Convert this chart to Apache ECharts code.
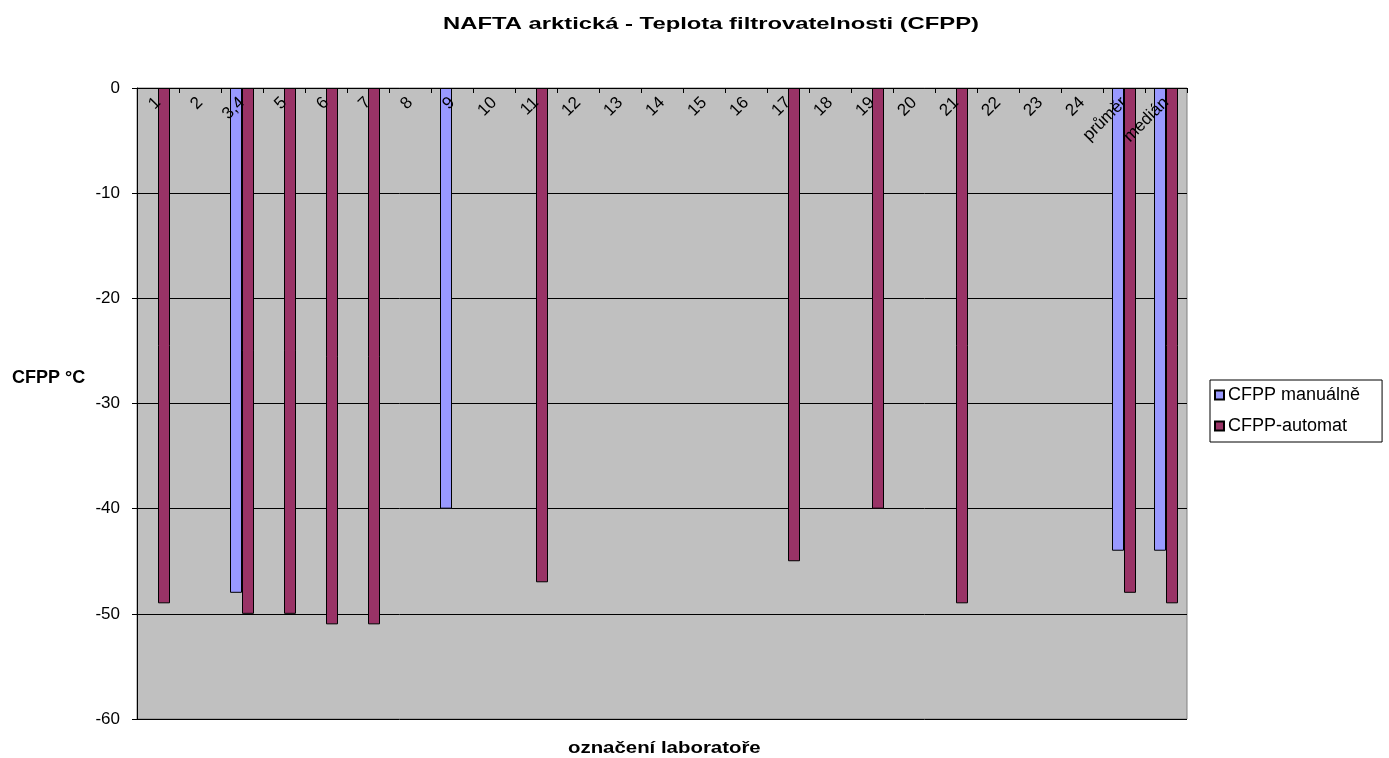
<!DOCTYPE html>
<html>
<head>
<meta charset="utf-8">
<script src="https://cdn.jsdelivr.net/npm/echarts@6/dist/echarts.min.js"></script>
<style>
html,body{margin:0;padding:0;background:#fff;}
#c{width:1389px;height:758px;}
</style>
</head>
<body>
<div id="c"></div>
<script>
const categories = ["1","2","3,4","5","6","7","8","9","10","11","12","13","14","15","16","17","18","19","20","21","22","23","24","průměr","medián"];
const manual =    [null,null,-48,null,null,null,null,-40,null,null,null,null,null,null,null,null,null,null,null,null,null,null,null,-44,-44];
const automat =   [-49,null,-50,-50,-51,-51,null,null,null,-47,null,null,null,null,null,-45,null,-40,null,-49,null,null,null,-48,-49];
const yTicks = { min: -60, max: 0, interval: 10 };

const chart = echarts.init(document.getElementById('c'));
const font = 'Liberation Sans, Arial, sans-serif';
chart.setOption({
  backgroundColor: '#ffffff',
  animation: false,
  textStyle: { fontFamily: font },
  grid: { left: 137, right: 202, top: 88, bottom: 39, show: true, backgroundColor: '#c0c0c0', borderColor: '#808080', borderWidth: 1, outerBoundsMode: 'none', containLabel: false },
  legend: {
    orient: 'vertical', left: 1210, top: 380,
    itemWidth: 9, itemHeight: 9, itemGap: 13,
    padding: [6, 22, 7, 4],
    borderColor: '#000', borderWidth: 1, backgroundColor: '#fff',
    icon: 'rect',
    textStyle: { fontFamily: font, fontSize: 18, color: '#000', padding: [0,0,0,-1] },
    data: ['CFPP manuálně', 'CFPP-automat']
  },
  xAxis: {
    type: 'category', data: categories, position: 'top', z: 10,
    axisLine: { onZero: false, lineStyle: { color: '#000', width: 1 } },
    axisTick: { show: true, inside: true, length: 5, lineStyle: { color: '#000' } },
    axisLabel: { inside: true, rotate: -45, interval: 0, fontSize: 17, color: '#000', fontFamily: font, margin: 12 }
  },
  yAxis: {
    type: 'value', min: yTicks.min, max: yTicks.max, interval: yTicks.interval,
    axisLine: { show: true, lineStyle: { color: '#000', width: 1 } },
    axisTick: { show: true, length: 5, lineStyle: { color: '#000' } },
    axisLabel: { fontSize: 17, color: '#000', fontFamily: font, margin: 17 },
    splitLine: { show: true, lineStyle: { color: '#000', width: 1 } }
  },
  series: [
    { name: 'CFPP manuálně', type: 'bar', data: manual, barWidth: 12, barGap: '0%',
      itemStyle: { color: '#9999ff', borderColor: '#000', borderWidth: 1 } },
    { name: 'CFPP-automat', type: 'bar', data: automat, barWidth: 12, barGap: '0%',
      itemStyle: { color: '#993366', borderColor: '#000', borderWidth: 1 } }
  ],
  graphic: [
    { type: 'text', x: 443, y: 16, scaleX: 1.40, style: { text: 'NAFTA arktická - Teplota filtrovatelnosti (CFPP)', font: 'bold 17px ' + font, fill: '#000', textVerticalAlign: 'top' } },
    { type: 'text', x: 12, y: 369, style: { text: 'CFPP °C', font: 'bold 18px ' + font, fill: '#000', textVerticalAlign: 'top' } },
    { type: 'text', x: 568, y: 740, scaleX: 1.2, style: { text: 'označení laboratoře', font: 'bold 17px ' + font, fill: '#000', textVerticalAlign: 'top' } }
  ]
});
</script>
</body>
</html>
